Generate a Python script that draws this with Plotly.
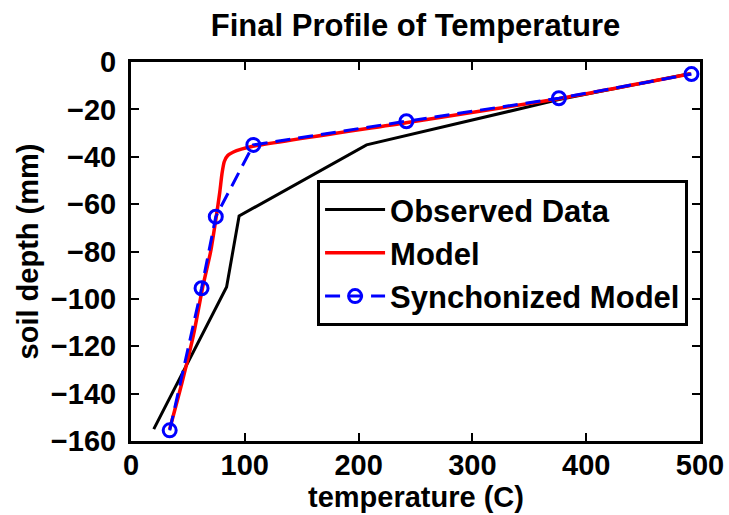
import plotly.graph_objects as go

# Observed data
obs_temp = [20, 84, 95, 207, 375, 491]
obs_depth = [-155, -95, -65, -35, -16, -5]

# Model (dense curve)
model_temp = [34, 45, 55, 63, 70, 75, 78, 80, 82, 85, 90, 97, 108, 243, 376, 492]
model_depth = [-155, -135, -115, -95, -80, -65, -55, -47, -42, -39.5, -38, -36.8, -35.5, -25.5, -15.5, -5]

# Synchronized model
sync_temp = [34, 62, 74.5, 107.5, 242, 376, 492.5]
sync_depth = [-155.5, -95.5, -65.3, -35, -25, -15.3, -5.1]

x_ticks = [0, 100, 200, 300, 400, 500]
y_ticks = [0, -20, -40, -60, -80, -100, -120, -140, -160]

FONT = "Liberation Sans, Arial, sans-serif"

fig = go.Figure()
fig.add_trace(go.Scatter(x=obs_temp, y=obs_depth, mode="lines", name="Observed Data",
                         line=dict(color="black", width=3)))
fig.add_trace(go.Scatter(x=model_temp, y=model_depth, mode="lines", name="Model",
                         line=dict(color="#ff0000", width=3.5, shape="spline", smoothing=0.6)))
fig.add_trace(go.Scatter(x=sync_temp, y=sync_depth, mode="lines+markers", name="Synchonized Model",
                         line=dict(color="#0000ff", width=3, dash="15px,8px"),
                         marker=dict(symbol="circle-open", size=13, color="#0000ff",
                                     line=dict(width=3, color="#0000ff"))))

axis_common = dict(showline=True, linecolor="black", linewidth=3, mirror="allticks",
                   ticks="inside", ticklen=8, tickwidth=2, tickcolor="black",
                   showgrid=False, zeroline=False, automargin=False,
                   tickfont=dict(family=FONT, size=29, color="black", weight="bold"))

fig.update_layout(
    width=729, height=515,
    margin=dict(l=131, r=29, t=62, b=74),
    paper_bgcolor="white", plot_bgcolor="white",
    title=dict(text="Final Profile of Temperature", x=0.5, xanchor="center", xref="paper",
               y=0.952, yanchor="middle", automargin=False,
               font=dict(family=FONT, size=31, color="black", weight="bold")),
    xaxis=dict(range=[0, 500], tickvals=x_ticks, ticklabelstandoff=-4, **axis_common),
    yaxis=dict(range=[-160, 0], tickvals=y_ticks, ticklabelstandoff=6,
               title=dict(text="soil depth (mm)", standoff=4,
                          font=dict(family=FONT, size=29, color="black", weight="bold")),
               **axis_common),
    annotations=[dict(text="temperature (C)", xref="paper", yref="paper", x=0.5, y=-0.148,
                      xanchor="center", yanchor="middle", showarrow=False,
                      font=dict(family=FONT, size=29, color="black", weight="bold"))],
    showlegend=True,
    legend=dict(x=0.327, y=0.689, xanchor="left", yanchor="top",
                bgcolor="white", bordercolor="black", borderwidth=3,
                font=dict(family=FONT, size=31, color="black", weight="bold"),
                tracegroupgap=0, itemwidth=60),
)

fig.write_html("out.html")
